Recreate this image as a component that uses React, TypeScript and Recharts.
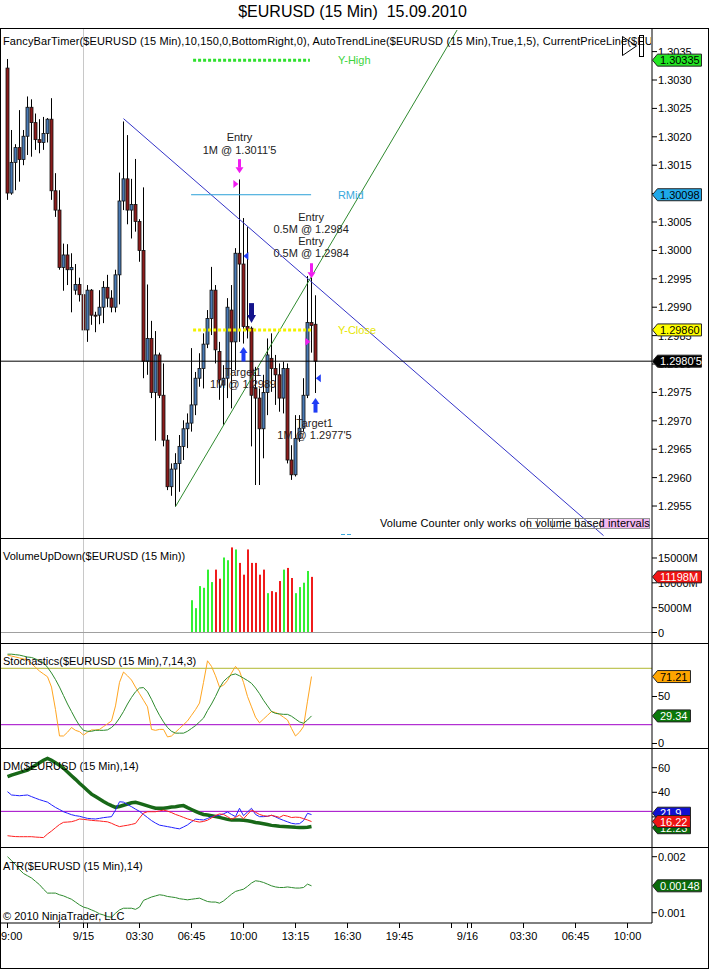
import React from 'react';
import { ComposedChart, Bar, Line, XAxis, YAxis, ReferenceLine, ReferenceDot } from 'recharts';

const FONT = "'Liberation Sans', Arial, Helvetica, sans-serif";

// ---------- price data (15 min bars, index 0 = first visible bar) ----------
const opens = [1.30321,1.30101,1.30155,1.30181,1.30160,1.30201,1.30252,1.30225,1.30195,1.30190,
 1.30206,1.30231,1.30105,1.30071,1.29970,1.29992,1.29966,1.29930,1.29940,1.29922,
 1.29860,1.29930,1.29886,1.29886,1.29900,1.29935,1.29916,1.29900,1.29957,1.30087,
 1.30126,1.30071,1.30081,1.30051,1.30000,1.29805,1.29845,1.29750,1.29816,1.29745,
 1.29666,1.29584,1.29615,1.29625,1.29655,1.29686,1.29696,1.29728,1.29775,1.29792,
 1.29835,1.29880,1.29930,1.29822,1.29763,1.29775,1.29895,1.29839,1.29995,1.29976,
 1.29866,1.29863,1.29757,1.29740,1.29686,1.29750,1.29810,1.29792,1.29781,1.29740,
 1.29792,1.29631,1.29605,1.29669,1.29687,1.29745,1.29873,1.29870];
const highs = [1.30337,1.30212,1.30187,1.30247,1.30212,1.30271,1.30266,1.30241,1.30231,1.30235,
 1.30233,1.30268,1.30136,1.30106,1.30012,1.30011,1.29995,1.29976,1.29952,1.29939,
 1.29939,1.29932,1.29892,1.29930,1.29946,1.29957,1.29930,1.29966,1.30137,1.30227,
 1.30203,1.30126,1.30161,1.30055,1.30111,1.29940,1.29876,1.29858,1.29820,1.29801,
 1.29675,1.29625,1.29643,1.29675,1.29701,1.29713,1.29828,1.29786,1.29819,1.29854,
 1.29895,1.29971,1.29939,1.29839,1.29798,1.29916,1.29939,1.30004,1.30125,1.30057,
 1.30041,1.29866,1.29795,1.29757,1.29781,1.29845,1.29854,1.29816,1.29801,1.29804,
 1.29801,1.29657,1.29710,1.29710,1.29775,1.29955,1.29953,1.29921];
const lows = [1.30089,1.30098,1.30106,1.30121,1.30150,1.30168,1.30165,1.30177,1.30171,1.30177,
 1.30190,1.30089,1.30059,1.29966,1.29929,1.29939,1.29891,1.29922,1.29910,1.29854,
 1.29839,1.29869,1.29856,1.29870,1.29872,1.29900,1.29891,1.29891,1.29905,1.30071,
 1.30046,1.30021,1.30033,1.29980,1.29775,1.29781,1.29740,1.29665,1.29740,1.29655,
 1.29578,1.29568,1.29549,1.29575,1.29631,1.29652,1.29681,1.29710,1.29760,1.29757,
 1.29828,1.29851,1.29801,1.29737,1.29693,1.29740,1.29722,1.29789,1.29839,1.29836,
 1.29845,1.29655,1.29587,1.29587,1.29634,1.29710,1.29751,1.29728,1.29716,1.29713,
 1.29625,1.29596,1.29602,1.29663,1.29681,1.29740,1.29820,1.29749];
const closes = [1.30101,1.30155,1.30181,1.30160,1.30201,1.30252,1.30225,1.30195,1.30190,1.30206,
 1.30231,1.30105,1.30071,1.29970,1.29992,1.29966,1.29970,1.29940,1.29922,1.29860,
 1.29930,1.29886,1.29885,1.29900,1.29935,1.29916,1.29900,1.29957,1.30087,1.30126,
 1.30071,1.30081,1.30051,1.30000,1.29805,1.29845,1.29750,1.29816,1.29745,1.29666,
 1.29584,1.29615,1.29625,1.29655,1.29686,1.29696,1.29728,1.29775,1.29792,1.29835,
 1.29880,1.29930,1.29825,1.29772,1.29775,1.29900,1.29839,1.29995,1.29976,1.29866,
 1.29860,1.29745,1.29740,1.29686,1.29750,1.29816,1.29792,1.29781,1.29740,1.29792,
 1.29631,1.29605,1.29669,1.29687,1.29745,1.29873,1.29868,1.29805];

// ---------- volume (millions), first bar index = volStart ----------
const volStart = 46;
const volumes = [6500,4900,9340,9000,12660,10150,12660,10830,15100,14550,17130,16720,14010,11640,16720,
 14010,14010,11640,12660,7920,8330,8120,10360,12660,13000,10970,7920,9140,10020,12390,11198];
const volUp = [1,1,1,1,1,1,0,0,1,1,0,1,0,0,0,0,0,0,0,1,0,0,0,1,0,0,1,1,1,1,0];

// ---------- indicators (bars 0..76) ----------
const stochK = [94,93,92,91,90,88.7,85,81,77,74, 71,60,36,8,8,12,17,14,12.6,9,
 12,14.4,14.4,15,18,21,24,40,65,76, 72,67.5,60,53,46,39,15,14,15,15,
 7,8,12,16,20,24,30,36,43,65, 88,82,72,60,62,67,75,82,77,65,
 50,39,28,22,26,30,34,33,31,28, 25,16,8,12,18,45,71.21];
const stochD = [95,95,94.5,94,93,92,91.5,90,88,86, 81,75,68,60,51,42,34,26,19,14,
 13,13,14,14,14,14.5,17,21,27,34, 42,49,55,59,59.5,55,47,38,30,23,
 17,13,11,11,11,13,16,19,23,27, 35,42,50,59,66,70,73,74,72,69.5,
 67,64,59,53,46,40,34,32,31.5,31, 31,29,26,23,21.5,25,29.34];
const adx = [52.7,54,55,56,57,58,60,62,64,66, 67.6,66,64,62,59.5,56.5,53.5,50.5,47.3,44.5,
 41.5,38.5,36.5,34.5,32.5,30.7,29.2,27.8,28.5,29.5, 30.5,31.5,31.9,31,30,29,28,27,27,27,
 27.5,28,28.3,28.8,29.2,27.5,26,24.5,23,22, 21.5,21,20.3,19.6,18.8,18,17.5,17.5,17.5,17.2,
 16.8,16.3,15.5,15,14.4,13.8,13.1,12.8,12.4,12.2, 12,11.8,11.5,11.3,11.3,11.6,12.2];
const plusDI = [40.5,37.8,37.5,37.2,37.5,37.8,36.5,35.2,34,33, 32,29.8,27.7,26,24.2,23,21.8,21,20.5,19.6,
 18.8,18.5,18.3,18.8,19.4,19.8,20.2,25.5,32.3,32, 30,28.3,26.3,24.5,22,19.5,17,15,13.3,12.7,
 12.1,11.5,10.8,10.3,11.8,13.5,16,18.2,17.8,17.5, 18.7,20.2,20.8,21.3,22.5,24,22,20.2,27,21,
 24,27,22,20.2,20.2,20.5,21.3,20,18.5,17.2, 16,14.8,14.3,14.5,17,22.9,21.9];
const minusDI = [4.7,4.3,4,3.9,3.9,3.9,3.9,3.6,3.4,3.2, 6.1,8.5,11.2,13.8,15.6,15.8,16.1,17,18.3,18,
 17.6,17.2,16.9,16.7,16.3,16,14.8,13.3,12.1,12.7, 13.2,13.9,14.7,19,23.1,24.2,24.2,24.2,24.9,25.5,
 24.7,23.5,22,20.9,19.6,18.4,17.4,16.4,15.8,16.3, 17.3,19.2,21.2,22.4,22,20.2,18.1,19.6,21.5,18.5,
 22,25.6,23.8,22,21,20.5,21.3,20.5,19.6,21.3, 20.6,19.5,19.8,19.6,18.6,17.5,16.22];
const atr = [0.00200,0.00193,0.00186,0.00177,0.00170,0.00166,0.00162,0.00156,0.00150,0.00142,
 0.00135,0.00135,0.00135,0.00132,0.00130,0.00127,0.00124,0.00119,0.00114,0.00110,
 0.00108,0.00105,0.00102,0.00098,0.00096,0.00093,0.00092,0.00099,0.00105,0.00108,
 0.00108,0.00108,0.00106,0.00110,0.00122,0.00125,0.00128,0.00130,0.00132,0.00131,
 0.00129,0.00128,0.00127,0.00125,0.00124,0.00123,0.00124,0.00125,0.00126,0.00123,
 0.00120,0.00119,0.00119,0.00117,0.00121,0.00127,0.00133,0.00138,0.00140,0.00142,
 0.00147,0.00153,0.00157,0.00156,0.00154,0.00151,0.00148,0.00146,0.00145,0.00145,
 0.00146,0.00145,0.00144,0.00144,0.00145,0.00151,0.00148];

// ---------- axis ticks ----------
const xTicks = [0, 13, 19, 20, 33, 46, 59, 72, 85, 98, 111, 115, 116, 129, 142, 155];
const xTickLabels = ['9:00', '', '9/15', '', '03:30', '06:45', '10:00', '13:15', '16:30', '19:45', '', '9/16', '', '03:30', '06:45', '10:00'];
const priceTicks = [1.2955,1.2960,1.2965,1.2970,1.2975,1.2980,1.2985,1.2990,1.2995,1.3000,1.3005,1.3010,1.3015,1.3020,1.3025,1.3030,1.3035];
const volTicks = [0, 5000, 10000, 15000];
const stochTicks = [0, 50];
const dmTicks = [20, 40, 60];
const atrTicks = [0.001, 0.002];

const rows = opens.map((o, i) => {
  const vi = i - volStart;
  const hasVol = vi >= 0 && vi < volumes.length;
  return {
    i, o, h: highs[i], l: lows[i], c: closes[i],
    range: [lows[i], highs[i]],
    vol: hasVol ? volumes[vi] : null,
    up: hasVol ? volUp[vi] : 0,
    k: stochK[i] ?? null, d: stochD[i] ?? null,
    adx: adx[i] ?? null, pdi: plusDI[i] ?? null, mdi: minusDI[i] ?? null,
    atr: atr[i] ?? null,
  };
});

const W = 709;
const AXW = 57;
const XMIN = -1.875;
const XMAX = 161.125;
const TAGX = XMAX - 0.01;

const BLUE = '#4a7ab4';
const RED = '#8c1c1c';

const Candle = (props: any) => {
  const { x, y, width, height, payload } = props;
  if (!payload || payload.h == null) return null;
  const cx = Math.round(x + width / 2) + 0.5;
  const top = Math.min(y, y + height);
  const bot = Math.max(y, y + height);
  const span = payload.h - payload.l;
  const k = span > 0 ? (bot - top) / span : 0;
  const py = (v: number) => top + (payload.h - v) * k;
  const up = payload.c >= payload.o;
  const bt = py(Math.max(payload.o, payload.c));
  const bb = py(Math.min(payload.o, payload.c));
  return (
    <g>
      <line x1={cx} x2={cx} y1={top} y2={bot} stroke="#000" strokeWidth={1} />
      <rect x={cx - 1.5} y={bt} width={3} height={Math.max(1, bb - bt)} fill={up ? BLUE : RED} stroke="#111" strokeWidth={0.8} />
    </g>
  );
};

const VolBar = (props: any) => {
  const { x, y, width, height, payload } = props;
  if (!payload || payload.vol == null) return null;
  const cx = Math.round(x + width / 2);
  const top = Math.min(y, y + height);
  return <rect x={cx - 1} y={top} width={2} height={Math.abs(height)} fill={payload.up ? '#33f033' : '#f01c1c'} />;
};

const makeYTick = (fmt: (v: number) => string) => (props: any) => {
  const { x, y, payload } = props;
  return (
    <text x={x} y={y} dy={4} fontSize={11} fill="#000" textAnchor="start" fontFamily={FONT}>{fmt(payload.value)}</text>
  );
};

const XTick = (props: any) => {
  const { x, y, payload } = props;
  const idx = xTicks.indexOf(payload.value);
  const label = idx >= 0 ? xTickLabels[idx] : '';
  if (!label) return <g />;
  const first = idx === 0;
  return (
    <text x={first ? 1 : x} y={y} dy={10} fontSize={11} fill="#000" textAnchor={first ? 'start' : 'middle'} fontFamily={FONT}>{label}</text>
  );
};

const tagShape = (text: string, fill: string, color: string, w: number) => (p: any) => {
  const x0 = p.cx;
  const yy = p.cy;
  const h = 12;
  return (
    <g>
      <polygon points={`${x0 + 0.5},${yy} ${x0 + 5.5},${yy - h / 2} ${x0 + 5.5 + w},${yy - h / 2} ${x0 + 5.5 + w},${yy + h / 2} ${x0 + 5.5},${yy + h / 2}`} fill={fill} stroke="#222" strokeWidth={1} />
      <text x={x0 + 8} y={yy} dy={4} fontSize={11} fill={color} fontFamily={FONT}>{text}</text>
    </g>
  );
};

const textShape = (lines: string[], color: string, anchor: 'start' | 'middle', lh: number) => (p: any) => {
  const n = lines.length;
  return (
    <g>
      {lines.map((t, j) => (
        <text key={j} x={p.cx} y={p.cy + (j - (n - 1) / 2) * lh} dy={4} fontSize={11} fill={color} textAnchor={anchor} fontFamily={FONT}>{t}</text>
      ))}
    </g>
  );
};

const downArrow = (color: string, shaftW: number, headW: number, len: number, headL: number) => (p: any) => {
  const cx = p.cx, tip = p.cy;
  return (
    <g>
      <rect x={cx - shaftW / 2} y={tip - len} width={shaftW} height={len - headL + 0.5} fill={color} />
      <polygon points={`${cx - headW / 2},${tip - headL} ${cx + headW / 2},${tip - headL} ${cx},${tip}`} fill={color} />
    </g>
  );
};

const upArrow = (color: string, shaftW: number, headW: number, len: number, headL: number) => (p: any) => {
  const cx = p.cx, tip = p.cy;
  return (
    <g>
      <rect x={cx - shaftW / 2} y={tip + headL - 0.5} width={shaftW} height={len - headL} fill={color} />
      <polygon points={`${cx - headW / 2},${tip + headL} ${cx + headW / 2},${tip + headL} ${cx},${tip}`} fill={color} />
    </g>
  );
};

const triShape = (color: string, dir: 'left' | 'right') => (p: any) => {
  const cx = p.cx, cy = p.cy;
  const pts = dir === 'left'
    ? `${cx + 2.5},${cy - 4} ${cx + 2.5},${cy + 4} ${cx - 2.5},${cy}`
    : `${cx - 2.5},${cy - 4} ${cx - 2.5},${cy + 4} ${cx + 2.5},${cy}`;
  return <polygon points={pts} fill={color} />;
};

function Panel(props: any) {
  const { top, height, domain, ticks, fmt, showX, children, overlay } = props;
  return (
    <div style={{ position: 'absolute', left: 0, top, width: W, height }}>
      <ComposedChart width={W} height={height} data={rows} margin={{ top: 0, right: 0, bottom: 0, left: 0 }}>
        <XAxis dataKey="i" type="number" domain={[XMIN, XMAX]} allowDataOverflow hide={!showX}
          ticks={xTicks} interval={0} tick={XTick} tickLine={{ stroke: '#000' }} tickSize={5}
          axisLine={{ stroke: '#000' }} height={showX ? 45 : 0} />
        <YAxis orientation="right" width={AXW} domain={domain} allowDataOverflow ticks={ticks} interval={0}
          tick={makeYTick(fmt)} tickLine={{ stroke: '#000' }} tickSize={5} tickMargin={1}
          axisLine={{ stroke: '#000' }} />
        <ReferenceLine x={19} stroke="#c8c8c8" strokeWidth={1} />
        {children}
      </ComposedChart>
      {overlay ? (
        <div style={{ position: 'absolute', left: 0, top: 0, width: W, height }}>
          <ComposedChart width={W} height={height} data={rows} margin={{ top: 0, right: 0, bottom: showX ? 45 : 0, left: 0 }}>
            <XAxis dataKey="i" type="number" domain={[XMIN, XMAX]} allowDataOverflow hide />
            <YAxis orientation="right" width={AXW} domain={domain} allowDataOverflow ticks={ticks}
              tick={false} tickLine={false} axisLine={false} />
            {overlay}
          </ComposedChart>
        </div>
      ) : null}
    </div>
  );
}

const hline = (top: number, width = W, left = 0) => (
  <div style={{ position: 'absolute', left, top, width, height: 1, background: '#000' }} />
);

const label = (text: string, left: number, top: number, extra: any = {}) => (
  <div style={{ position: 'absolute', left, top, fontSize: 11, lineHeight: '12px', whiteSpace: 'pre', color: '#000', ...extra }}>{text}</div>
);

export default function App() {
  return (
    <div style={{ position: 'absolute', left: 0, top: 0, width: W, height: 969, background: '#fff', fontFamily: FONT, overflow: 'hidden' }}>
      <div style={{ position: 'absolute', left: 0, top: 2, width: 705, textAlign: 'center', fontSize: 16, lineHeight: '20px', whiteSpace: 'pre', color: '#000' }}>
        {'$EURUSD (15 Min)  15.09.2010'}
      </div>

      {/* Price panel */}
      <Panel top={29} height={509} domain={[1.294937, 1.303898]} ticks={priceTicks}
        fmt={(v: number) => (Math.abs(v - 1.301) < 1e-6 ? '' : v.toFixed(4))}
        overlay={[
          <ReferenceDot key="t1" x={TAGX} y={1.30335} ifOverflow="visible" shape={tagShape('1.30335', '#22e622', '#000', 44)} />,
          <ReferenceDot key="t2" x={TAGX} y={1.30098} ifOverflow="visible" shape={tagShape('1.30098', '#1ea8ea', '#000', 44)} />,
          <ReferenceDot key="t3" x={TAGX} y={1.2986} ifOverflow="visible" shape={tagShape('1.29860', '#ffff00', '#000', 44)} />,
          <ReferenceDot key="t4" x={TAGX} y={1.29805} ifOverflow="visible" shape={tagShape("1.2980'5", '#000', '#fff', 44)} />,
        ]}>
        <ReferenceLine segment={[{ x: 29, y: 1.30232 }, { x: 149, y: 1.29498 }]} stroke="#3434c8" strokeWidth={1} ifOverflow="visible" />
        <ReferenceLine segment={[{ x: 42, y: 1.29549 }, { x: 112.4, y: 1.30388 }]} stroke="#2f8a2f" strokeWidth={1} ifOverflow="visible" />
        <ReferenceLine segment={[{ x: 46.4, y: 1.30335 }, { x: 75.6, y: 1.30335 }]} stroke="#2ee02e" strokeWidth={3} strokeDasharray="3 2" ifOverflow="visible" />
        <ReferenceLine segment={[{ x: 45.9, y: 1.30098 }, { x: 75.9, y: 1.30098 }]} stroke="#2aa0d8" strokeWidth={1} ifOverflow="visible" />
        <ReferenceLine segment={[{ x: 46.4, y: 1.2986 }, { x: 75.9, y: 1.2986 }]} stroke="#f2f200" strokeWidth={3} strokeDasharray="3 2" ifOverflow="visible" />
        <ReferenceLine y={1.29805} stroke="#000" strokeWidth={1} />
        <Bar dataKey="range" barSize={3} shape={Candle} isAnimationActive={false} />

        <ReferenceDot x={82.6} y={1.30335} ifOverflow="visible" shape={textShape(['Y-High'], '#3cd43c', 'start', 12)} />
        <ReferenceDot x={82.6} y={1.30098} ifOverflow="visible" shape={textShape(['RMid'], '#3aa8dc', 'start', 12)} />
        <ReferenceDot x={82.6} y={1.2986} ifOverflow="visible" shape={textShape(['Y-Close'], '#e6e600', 'start', 12)} />

        <ReferenceDot x={58} y={1.30188} ifOverflow="visible" shape={textShape(['Entry', "1M @ 1.3011'5"], '#222', 'middle', 13)} />
        <ReferenceDot x={75.9} y={1.30027} ifOverflow="visible" shape={textShape(['Entry', '0.5M @ 1.2984', 'Entry', '0.5M @ 1.2984'], '#222', 'middle', 12)} />
        <ReferenceDot x={58.9} y={1.29775} ifOverflow="visible" shape={textShape(['Target1', '1M @ 1.2989'], '#2a1a1a', 'middle', 11.5)} />
        <ReferenceDot x={76.75} y={1.29686} ifOverflow="visible" shape={textShape(['Target1', "1M @ 1.2977'5"], '#2a1a1a', 'middle', 12)} />

        <ReferenceDot x={58} y={1.30136} ifOverflow="visible" shape={downArrow('#f01cf0', 3, 8, 14, 6)} />
        <ReferenceDot x={76} y={1.29951} ifOverflow="visible" shape={downArrow('#f01cf0', 3, 8, 15, 6)} />
        <ReferenceDot x={61} y={1.29872} ifOverflow="visible" shape={downArrow('#14148c', 5, 9, 20, 8)} />
        <ReferenceDot x={59} y={1.2983} ifOverflow="visible" shape={upArrow('#1f3cf5', 4, 8, 15, 6)} />
        <ReferenceDot x={77} y={1.2974} ifOverflow="visible" shape={upArrow('#1f3cf5', 4, 8, 15, 6)} />
        <ReferenceDot x={59.6} y={1.2999} ifOverflow="visible" shape={triShape('#1f3cf5', 'left')} />
        <ReferenceDot x={77.7} y={1.29775} ifOverflow="visible" shape={triShape('#1f3cf5', 'left')} />
        <ReferenceDot x={57.1} y={1.30117} ifOverflow="visible" shape={triShape('#f01cf0', 'right')} />
        <ReferenceDot x={75.1} y={1.29839} ifOverflow="visible" shape={triShape('#f01cf0', 'right')} />
      </Panel>

      {/* Volume panel */}
      <Panel top={538} height={105} domain={[-2114, 19026]} ticks={volTicks} fmt={(v: number) => (v === 0 ? '0' : `${v}M`)}
        overlay={[
          <ReferenceDot key="v1" x={TAGX} y={11198} ifOverflow="visible" shape={tagShape('11198M', '#f01414', '#fff', 44)} />,
        ]}>
        <ReferenceLine y={0} stroke="#a0a0a0" strokeWidth={1} />
        <Bar dataKey="vol" barSize={2} shape={VolBar} isAnimationActive={false} />
      </Panel>

      {/* Stochastics panel */}
      <Panel top={643} height={105} domain={[-4.79, 106.9]} ticks={stochTicks} fmt={(v: number) => String(v)}
        overlay={[
          <ReferenceDot key="s1" x={TAGX} y={71.21} ifOverflow="visible" shape={tagShape('71.21', '#ffa500', '#000', 33)} />,
          <ReferenceDot key="s2" x={TAGX} y={29.34} ifOverflow="visible" shape={tagShape('29.34', '#0a780a', '#fff', 33)} />,
        ]}>
        <ReferenceLine y={80} stroke="#b0b830" strokeWidth={1} />
        <ReferenceLine y={20} stroke="#a000c8" strokeWidth={1} />
        <Line dataKey="k" stroke="#ffa520" strokeWidth={1} dot={false} isAnimationActive={false} type="linear" />
        <Line dataKey="d" stroke="#2e8b2e" strokeWidth={1} dot={false} isAnimationActive={false} type="linear" />
      </Panel>

      {/* DM panel */}
      <Panel top={748} height={99} domain={[-4.47, 76]} ticks={dmTicks} fmt={(v: number) => (v === 20 ? '' : String(v))}
        overlay={[
          <ReferenceDot key="d1" x={TAGX} y={23} ifOverflow="visible" shape={tagShape('21.9', '#1010d0', '#fff', 33)} />,
          <ReferenceDot key="d2" x={TAGX} y={11.2} ifOverflow="visible" shape={tagShape('12.23', '#0a6a0a', '#fff', 33)} />,
          <ReferenceDot key="d3" x={TAGX} y={16.22} ifOverflow="visible" shape={tagShape('16.22', '#ee1414', '#fff', 33)} />,
        ]}>
        <ReferenceLine y={24.5} stroke="#a000c8" strokeWidth={1} />
        <Line dataKey="adx" stroke="#186818" strokeWidth={3.5} dot={false} isAnimationActive={false} type="linear" />
        <Line dataKey="pdi" stroke="#2020ff" strokeWidth={1} dot={false} isAnimationActive={false} type="linear" />
        <Line dataKey="mdi" stroke="#ff2020" strokeWidth={1} dot={false} isAnimationActive={false} type="linear" />
      </Panel>

      {/* ATR panel with time axis */}
      <Panel top={847} height={121} domain={[0.00081607, 0.0021732]} ticks={atrTicks} fmt={(v: number) => v.toFixed(3)} showX
        overlay={[
          <ReferenceDot key="a1" x={TAGX} y={0.00148} ifOverflow="visible" shape={tagShape('0.00148', '#0a6a0a', '#fff', 44)} />,
        ]}>
        <Line dataKey="atr" stroke="#2e8b2e" strokeWidth={1} dot={false} isAnimationActive={false} type="linear" />
      </Panel>

      {/* frame */}
      {hline(28)}
      {hline(538)}
      {hline(643)}
      {hline(748)}
      {hline(847)}
      {hline(968)}
      <div style={{ position: 'absolute', left: 0, top: 28, width: 1, height: 941, background: '#000' }} />
      <div style={{ position: 'absolute', left: 708, top: 28, width: 1, height: 941, background: '#000' }} />

      {/* panel captions */}
      <div style={{ position: 'absolute', left: 3, top: 35, width: 648, overflow: 'hidden', fontSize: 11, lineHeight: '12px', whiteSpace: 'pre', color: '#000', letterSpacing: '0.13px' }}>
        {'FancyBarTimer($EURUSD (15 Min),10,150,0,BottomRight,0), AutoTrendLine($EURUSD (15 Min),True,1,5), CurrentPriceLine($EU'}
      </div>
      <svg style={{ position: 'absolute', left: 618, top: 32 }} width={30} height={28}>
        <polygon points="4.5,4.5 18.5,14 4.5,23.5" fill="none" stroke="#000" strokeWidth={1} />
        <rect x={21.5} y={3.5} width={4} height={21} fill="none" stroke="#000" strokeWidth={1} />
      </svg>

      {/* volume counter message */}
      <div style={{ position: 'absolute', left: 600, top: 518, width: 50, height: 11, background: '#f2b8f2', border: '1px solid #999', boxSizing: 'border-box' }} />
      {[527, 537, 552, 563, 578].map((lx, j, arr) => (
        <div key={j} style={{ position: 'absolute', left: lx, top: 518, width: (j < arr.length - 1 ? arr[j + 1] : 600) - lx + 1, height: 11, border: '1px solid #888', boxSizing: 'border-box' }} />
      ))}
      {label('Volume Counter only works on volume based intervals', 380, 517, { letterSpacing: '0.1px' })}
      <div style={{ position: 'absolute', left: 341, top: 534, width: 4, height: 1, background: '#3aa8dc' }} />
      <div style={{ position: 'absolute', left: 347, top: 534, width: 4, height: 1, background: '#3aa8dc' }} />

      {label('VolumeUpDown($EURUSD (15 Min))', 3, 550)}
      {label('Stochastics($EURUSD (15 Min),7,14,3)', 3, 655)}
      {label('DM($EURUSD (15 Min),14)', 3, 760)}
      {label('ATR($EURUSD (15 Min),14)', 3, 860)}
      {label('© 2010 NinjaTrader, LLC', 3, 910)}
    </div>
  );
}
